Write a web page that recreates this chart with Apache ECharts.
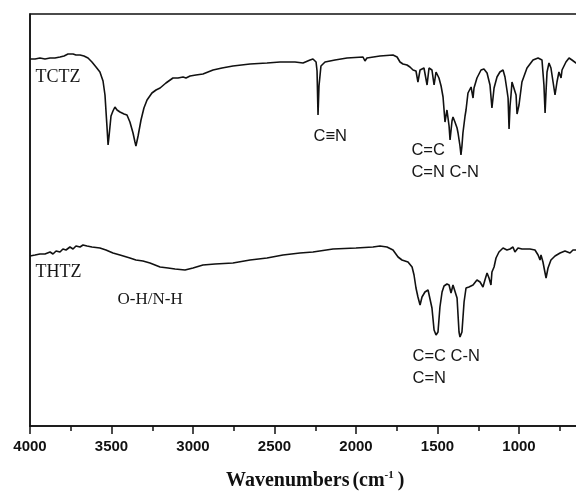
<!DOCTYPE html>
<html>
<head>
<meta charset="utf-8">
<script src="https://cdn.jsdelivr.net/npm/echarts@6/dist/echarts.min.js"></script>
<style>
  html, body { margin: 0; padding: 0; background: #fff; }
  #chart { width: 576px; height: 491px; }
</style>
</head>
<body>
<div id="chart"></div>
<script>
// FTIR spectra, [wavenumber (cm-1), transmittance (a.u., offset)]
const tctzSpectrum = [
  [4000,367],[3969,367],[3939,368],[3908,367],[3877,368],[3847,368],[3816,369],[3791,370],
  [3767,372],[3755,371],[3736,372],[3718,371],[3693,371],[3669,370],[3644,368],[3620,364],
  [3595,359],[3571,354],[3552,345],[3540,331],[3528,300],[3521,281],[3515,290],[3503,310],
  [3491,315],[3479,319],[3466,316],[3448,314],[3423,312],[3405,311],[3387,304],[3368,293],
  [3356,284],[3350,280],[3337,290],[3319,306],[3301,318],[3282,326],[3252,333],[3227,336],
  [3202,338],[3166,343],[3123,348],[3092,348],[3061,349],[3043,348],[3018,350],[2982,351],
  [2939,352],[2908,354],[2877,356],[2822,358],[2755,360],[2650,362],[2546,363],[2466,364],
  [2374,364],[2325,363],[2282,366],[2264,367],[2245,364],[2239,355],[2233,311],[2227,340],
  [2215,360],[2190,364],[2129,366],[2055,368],[1957,369],[1945,365],[1933,368],[1853,370],
  [1773,371],[1748,369],[1730,364],[1712,362],[1687,361],[1669,359],[1650,356],[1632,355],
  [1620,344],[1607,356],[1583,358],[1564,341],[1552,358],[1534,356],[1521,341],[1509,354],
  [1491,348],[1478,340],[1466,329],[1454,304],[1442,316],[1429,300],[1423,286],[1411,305],
  [1405,309],[1393,304],[1380,298],[1374,293],[1362,280],[1356,271],[1350,280],[1344,293],
  [1331,310],[1325,316],[1313,333],[1294,339],[1288,340],[1282,328],[1276,338],[1258,348],
  [1233,356],[1215,357],[1196,353],[1178,341],[1166,318],[1153,338],[1135,349],[1117,354],
  [1098,356],[1086,349],[1074,336],[1067,328],[1061,297],[1055,320],[1049,331],[1043,344],
  [1031,343],[1018,331],[1012,312],[1000,321],[982,344],[951,358],[914,366],[883,368],
  [859,366],[847,341],[840,313],[834,335],[828,354],[816,363],[804,358],[791,344],
  [779,331],[767,344],[755,354],[742,348],[736,356],[712,364],[693,368],[675,366],
  [650,363],[630,365]
];

const thtzSpectrum = [
  [4000,170],[3969,171],[3939,172],[3908,172],[3877,174],[3859,172],[3840,175],[3816,174],
  [3798,177],[3779,176],[3755,179],[3736,177],[3718,180],[3693,179],[3675,181],[3650,180],
  [3620,179],[3571,178],[3534,176],[3491,173],[3448,171],[3387,168],[3350,166],[3307,165],
  [3264,163],[3202,159],[3153,158],[3110,157],[3049,156],[3000,158],[2939,161],[2865,162],
  [2755,163],[2650,166],[2546,168],[2448,171],[2344,173],[2264,174],[2141,177],[2000,178],
  [1896,179],[1853,180],[1810,179],[1773,176],[1742,169],[1718,166],[1681,164],[1656,159],
  [1644,151],[1632,138],[1620,129],[1607,121],[1595,129],[1577,134],[1558,136],[1546,134],
  [1534,118],[1521,96],[1509,91],[1497,94],[1485,119],[1472,134],[1460,140],[1442,142],
  [1429,141],[1417,133],[1405,141],[1393,142],[1380,128],[1368,94],[1362,89],[1350,94],
  [1337,124],[1325,138],[1307,139],[1282,141],[1258,146],[1239,144],[1221,139],[1209,146],
  [1196,153],[1184,148],[1172,141],[1166,154],[1153,159],[1141,168],[1123,174],[1098,178],
  [1074,176],[1055,177],[1037,179],[1025,174],[1006,178],[982,177],[933,177],[902,176],
  [883,171],[871,166],[865,171],[853,164],[840,153],[834,148],[822,158],[804,166],
  [779,170],[748,173],[718,175],[687,173],[669,176],[650,176],[630,176]
];

// Axis range and tick step (cm-1)
const xMax = 4000;
const xMin = 500;
const xStep = 500;

// Text annotations: [wavenumber, value, text, font]
const tctzNotes = [
  [3969, 348.5, 'TCTZ', 'serif'],
  [2264, 289.5, 'C≡N', 'sans'],
  [1663, 275.5, 'C=C', 'sans'],
  [1663, 254, 'C=N C-N', 'sans']
];
const thtzNotes = [
  [3969, 154, 'THTZ', 'serif'],
  [3466, 126.5, 'O-H/N-H', 'serif'],
  [1656, 69.5, 'C=C C-N', 'sans'],
  [1656, 47.5, 'C=N', 'sans']
];

const SERIF = '"Liberation Serif", "Times New Roman", serif';
const SANS = '"Liberation Sans", Arial, sans-serif';

function notePoints(notes) {
  return notes.map(n => ({
    coord: [n[0], n[1]],
    symbol: 'circle',
    symbolSize: 1,
    itemStyle: { color: 'rgba(0,0,0,0)' },
    label: {
      show: true,
      formatter: n[2],
      position: 'right',
      distance: 0,
      color: '#161616',
      fontFamily: n[3] === 'serif' ? SERIF : SANS,
      fontSize: n[3] === 'serif' ? (n[2] === 'O-H/N-H' ? 17 : 18) : 16.5
    }
  }));
}

const chart = echarts.init(document.getElementById('chart'), null, { renderer: 'canvas' });

chart.setOption({
  animation: false,
  backgroundColor: '#fff',
  grid: {
    left: 30,
    right: -24.5,
    top: 14,
    bottom: 65,
    show: true,
    borderColor: '#111',
    borderWidth: 1.5,
    containLabel: false,
    outerBoundsMode: 'none'
  },
  xAxis: {
    type: 'value',
    inverse: true,
    min: xMin,
    max: xMax,
    interval: xStep,
    name: '{a|Wavenumbers}{b|(cm}{c|-1}{b|)}',
    nameLocation: 'middle',
    nameGap: 44,
    nameTextStyle: {
      rich: {
        a: { fontFamily: SERIF, fontWeight: 'bold', fontSize: 20, color: '#111', padding: [0, 3, 0, 0] },
        b: { fontFamily: SERIF, fontWeight: 'bold', fontSize: 20, color: '#111' },
        c: { fontFamily: SERIF, fontWeight: 'bold', fontSize: 11, color: '#111', verticalAlign: 'top', padding: [0, 4, 10, 0] }
      }
    },
    axisLine: { show: true, lineStyle: { color: '#111', width: 1.5 } },
    axisTick: { show: true, length: 8, inside: false, lineStyle: { color: '#111', width: 1.5 } },
    minorTick: { show: true, splitNumber: 2, length: 5, lineStyle: { color: '#111', width: 1.5 } },
    axisLabel: {
      show: true,
      margin: 13,
      fontFamily: SANS,
      fontWeight: 'bold',
      fontSize: 15,
      color: '#111',
      formatter: v => String(v)
    },
    splitLine: { show: false }
  },
  yAxis: {
    type: 'value',
    min: 0,
    max: 412,
    axisLine: { show: true, lineStyle: { color: '#111', width: 1.5 } },
    axisTick: { show: false },
    axisLabel: { show: false },
    splitLine: { show: false }
  },
  series: [
    {
      name: 'TCTZ',
      type: 'line',
      data: tctzSpectrum,
      showSymbol: false,
      smooth: false,
      lineStyle: { color: '#111', width: 1.6 },
      markPoint: { silent: true, data: notePoints(tctzNotes) }
    },
    {
      name: 'THTZ',
      type: 'line',
      data: thtzSpectrum,
      showSymbol: false,
      smooth: false,
      lineStyle: { color: '#111', width: 1.6 },
      markPoint: { silent: true, data: notePoints(thtzNotes) }
    }
  ]
});
</script>
</body>
</html>
